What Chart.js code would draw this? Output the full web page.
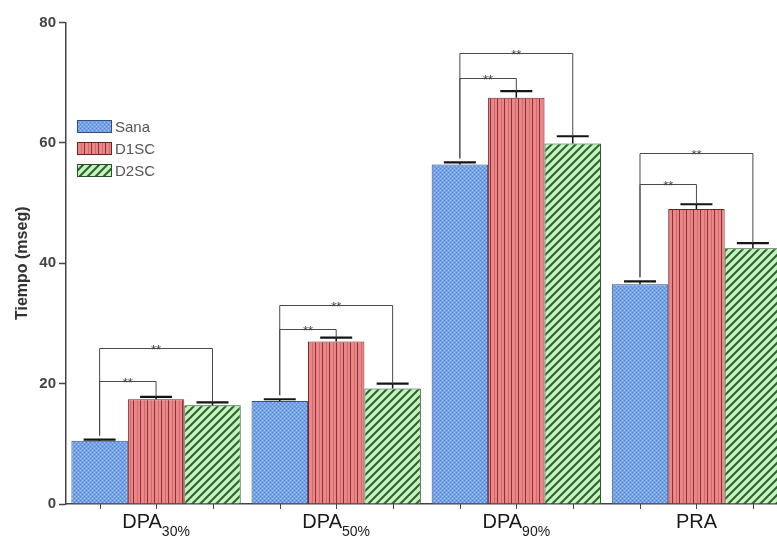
<!DOCTYPE html>
<html>
<head>
<meta charset="utf-8">
<script src="https://cdn.jsdelivr.net/npm/chart.js@4.4.1/dist/chart.umd.min.js"></script>
<style>
  html, body { margin: 0; padding: 0; background: #ffffff; overflow: hidden; }
  #wrap { width: 790px; height: 536px; }
</style>
</head>
<body>
<div id="wrap"><canvas id="chart" width="790" height="536"></canvas></div>
<script>
// Categories and subscripts of the x labels
const categories = ['DPA', 'DPA', 'DPA', 'PRA'];
const subscripts = ['30%', '50%', '90%', ''];
const seriesNames = ['Sana', 'D1SC', 'D2SC'];

// Mean times (mseg) per group
const sana = [10.5, 17.1, 56.4, 36.5];
const d1sc = [17.4, 27.0, 67.5, 49.0];
const d2sc = [16.4, 19.2, 59.9, 42.5];

// Error (upper whisker) per bar
const sanaErr = [0.2, 0.3, 0.35, 0.5];
const d1scErr = [0.4, 0.65, 1.1, 0.8];
const d2scErr = [0.5, 0.8, 1.2, 0.85];

// Significance bracket heights: Sana vs D1SC, Sana vs D2SC
const innerBracket = [20.4, 29.0, 70.8, 53.1];
const outerBracket = [25.9, 33.1, 75.0, 58.3];
const sigLabel = '**';

const yTicks = [0, 20, 40, 60, 80];

// Fill patterns for the three series
function makePattern(kind) {
  const c = document.createElement('canvas');
  const g = c.getContext('2d');
  if (kind === 'dots') {
    c.width = 4; c.height = 4;
    g.fillStyle = '#74a2e8'; g.fillRect(0, 0, 4, 4);
    g.fillStyle = '#5c8ad6'; g.fillRect(0, 0, 1, 1); g.fillRect(2, 2, 1, 1);
    g.fillStyle = '#a3c3f2'; g.fillRect(2, 0, 1, 1); g.fillRect(0, 2, 1, 1);
  } else if (kind === 'vlines') {
    c.width = 7; c.height = 4;
    g.fillStyle = '#e98688'; g.fillRect(0, 0, 7, 4);
    g.fillStyle = '#8e2f35'; g.fillRect(0, 0, 1, 4);
    g.fillStyle = '#d06a6d'; g.fillRect(4, 0, 1, 4);
  } else {
    c.width = 8; c.height = 8;
    g.fillStyle = '#c6f2bd'; g.fillRect(0, 0, 8, 8);
    g.strokeStyle = '#2a6330'; g.lineWidth = 2;
    g.beginPath();
    g.moveTo(-1, 9); g.lineTo(9, -1);
    g.moveTo(-5, 5); g.lineTo(5, -5);
    g.moveTo(3, 13); g.lineTo(13, 3);
    g.stroke();
  }
  return g.createPattern(c, 'repeat');
}

const fills = [makePattern('dots'), makePattern('vlines'), makePattern('diag')];
const borders = ['#34507e', '#6e2226', '#24502a'];

const overlay = {
  id: 'overlay',
  afterDatasetsDraw(chart) {
    const ctx = chart.ctx;
    const ys = chart.scales.y;
    const xs = chart.scales.x;
    const area = chart.chartArea;
    const line = (x1, y1, x2, y2) => { ctx.beginPath(); ctx.moveTo(x1, y1); ctx.lineTo(x2, y2); ctx.stroke(); };

    ctx.save();
    // error bars
    chart.data.datasets.forEach((ds, di) => {
      const meta = chart.getDatasetMeta(di);
      meta.data.forEach((bar, i) => {
        const top = ys.getPixelForValue(ds.data[i] + ds.errors[i]);
        ctx.strokeStyle = '#141414';
        ctx.lineWidth = 1.5;
        line(bar.x, bar.y, bar.x, top);
        ctx.lineWidth = 2.2;
        line(bar.x - 16, top, bar.x + 16, top);
      });
    });

    // significance brackets
    const m0 = chart.getDatasetMeta(0).data;
    const m1 = chart.getDatasetMeta(1).data;
    const m2 = chart.getDatasetMeta(2).data;
    const ds = chart.data.datasets;
    ctx.strokeStyle = '#4a4a4a';
    ctx.lineWidth = 1;
    ctx.fillStyle = '#444';
    ctx.font = '13px "Liberation Sans", Arial, sans-serif';
    ctx.textAlign = 'center';
    ctx.textBaseline = 'alphabetic';
    const bracket = (i, level, target, tMeta) => {
      const yl = Math.round(ys.getPixelForValue(level)) + 0.5;
      const xl = m0[i].x;
      const xr = tMeta[i].x;
      const leftEnd = ys.getPixelForValue(ds[0].data[i] + ds[0].errors[i]) - 4;
      const rightEnd = ys.getPixelForValue(ds[target].data[i] + ds[target].errors[i]);
      ctx.beginPath();
      ctx.moveTo(xl, leftEnd);
      ctx.lineTo(xl, yl);
      ctx.lineTo(xr, yl);
      ctx.lineTo(xr, rightEnd);
      ctx.stroke();
      ctx.fillText(sigLabel, (xl + xr) / 2, yl + 5);
    };
    for (let i = 0; i < categories.length; i++) {
      bracket(i, innerBracket[i], 1, m1);
      bracket(i, outerBracket[i], 2, m2);
    }

    // small ticks under each bar
    ctx.strokeStyle = '#444';
    ctx.lineWidth = 1;
    [m0, m1, m2].forEach(md => md.forEach(b => {
      const bx = Math.round(b.x) + 0.5;
      line(bx, area.bottom, bx, area.bottom + 5);
    }));

    // category labels with subscripts
    ctx.fillStyle = '#1a1a1a';
    ctx.textAlign = 'left';
    const mainFont = '20px "Liberation Sans", Arial, sans-serif';
    const subFont = '14px "Liberation Sans", Arial, sans-serif';
    categories.forEach((c, i) => {
      ctx.font = mainFont;
      const w1 = ctx.measureText(c).width;
      ctx.font = subFont;
      const w2 = subscripts[i] ? ctx.measureText(subscripts[i]).width : 0;
      const cx = xs.getPixelForValue(i);
      const x0 = cx - (w1 + w2) / 2;
      ctx.font = mainFont;
      ctx.fillText(c, x0, 528);
      if (subscripts[i]) {
        ctx.font = subFont;
        ctx.fillText(subscripts[i], x0 + w1, 536);
      }
    });

    // legend
    const rows = [126.5, 148.5, 170.5];
    ctx.font = '15px "Liberation Sans", Arial, sans-serif';
    ctx.textBaseline = 'middle';
    seriesNames.forEach((name, k) => {
      const ry = rows[k];
      ctx.fillStyle = fills[k];
      ctx.fillRect(77, ry - 6.5, 35, 13);
      ctx.strokeStyle = borders[k];
      ctx.lineWidth = 1;
      ctx.strokeRect(77.5, ry - 6, 34, 12);
      ctx.fillStyle = '#555';
      ctx.fillText(name, 115, ry + 1);
    });
    ctx.restore();
  }
};

new Chart(document.getElementById('chart'), {
  type: 'bar',
  data: {
    labels: categories.map((c, i) => c + subscripts[i]),
    datasets: [
      { label: seriesNames[0], data: sana, errors: sanaErr, backgroundColor: fills[0], borderColor: borders[0], borderWidth: 1 },
      { label: seriesNames[1], data: d1sc, errors: d1scErr, backgroundColor: fills[1], borderColor: borders[1], borderWidth: 1 },
      { label: seriesNames[2], data: d2sc, errors: d2scErr, backgroundColor: fills[2], borderColor: borders[2], borderWidth: 1 }
    ]
  },
  options: {
    responsive: false,
    animation: false,
    devicePixelRatio: 1,
    layout: { padding: { top: 22.5, right: 3.5, left: 0, bottom: 0 } },
    datasets: { bar: { categoryPercentage: 0.94, barPercentage: 1.0 } },
    plugins: { legend: { display: false }, tooltip: { enabled: false } },
    scales: {
      x: {
        grid: { display: false },
        border: { display: true, color: '#444', width: 1.5 },
        ticks: { display: false },
        afterFit: s => { s.height = 32; }
      },
      y: {
        min: 0,
        max: 80,
        afterBuildTicks: s => { s.ticks = yTicks.map(v => ({ value: v })); },
        grid: { drawOnChartArea: false, drawTicks: true, tickLength: 7, color: '#444', tickWidth: 1.5 },
        border: { display: true, color: '#444', width: 1.5 },
        ticks: {
          color: '#444',
          padding: 3,
          font: { family: '"Liberation Sans", Arial, sans-serif', size: 15, weight: 'bold' }
        },
        title: {
          display: true,
          text: 'Tiempo (mseg)',
          color: '#333',
          padding: { top: 13, bottom: 0 },
          font: { family: '"Liberation Sans", Arial, sans-serif', size: 16, weight: 'bold' }
        },
        afterFit: s => { s.width = 66; }
      }
    }
  },
  plugins: [overlay]
});
</script>
</body>
</html>
